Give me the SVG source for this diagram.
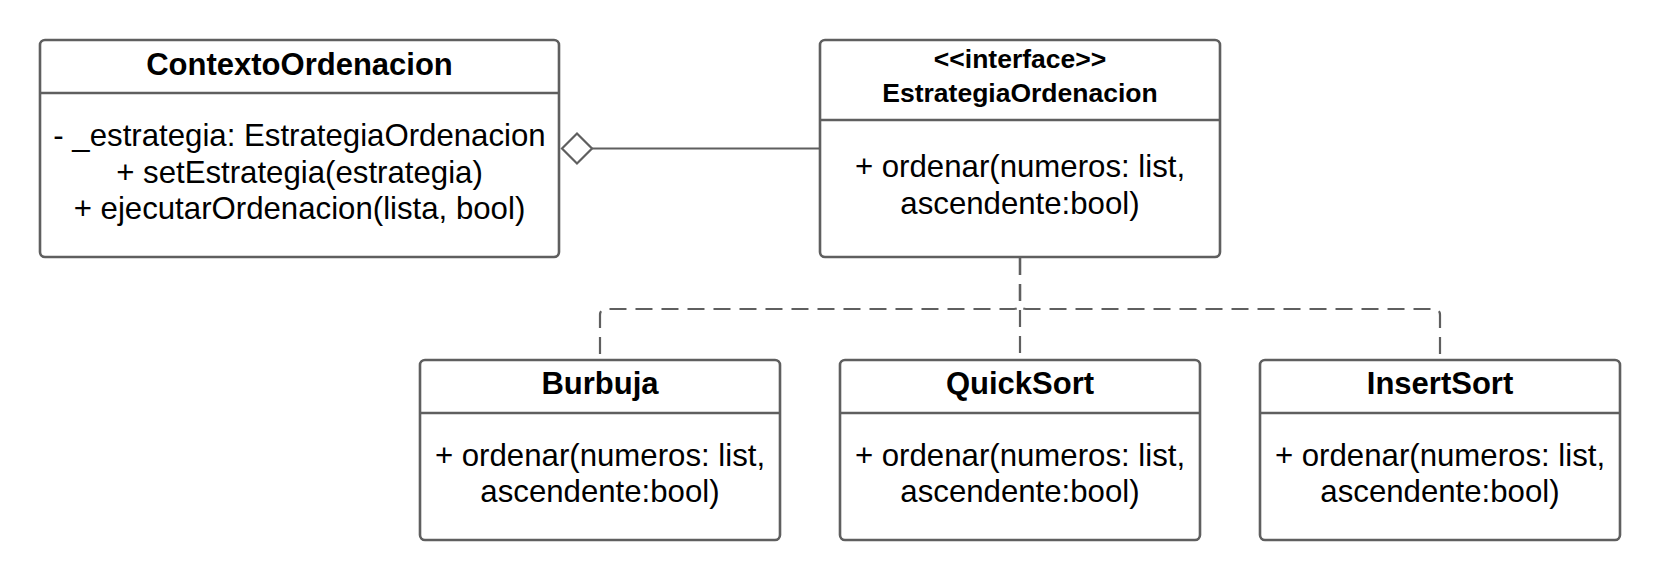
<svg xmlns="http://www.w3.org/2000/svg" width="1660" height="580" viewBox="0 0 1660 580">
<style>
.box{fill:#fff;stroke:#5f5f5f;stroke-width:2.6}
.div{stroke:#5f5f5f;stroke-width:2.6}
.t{font-family:"Liberation Sans",Arial,sans-serif;fill:#000;text-anchor:middle}
.h{font-weight:bold;font-size:31px}
.hs{font-weight:bold;font-size:26.5px}
.b{font-size:31.2px}
.ln{fill:none;stroke:#5f5f5f;stroke-width:2.2}
.dash{stroke-dasharray:17 9}
</style>
<rect width="1660" height="580" fill="#fff"/>
<g id="connectors">
<path class="ln" d="M820,148.5 H592"/>
<path id="agg" d="M562,148.5 L577,133.5 L592,148.5 L577,163.5 Z" fill="#fff" stroke="#5f5f5f" stroke-width="2.2"/>
<path class="ln dash" d="M1020,258 V303 Q1020,309 1014,309 H606 Q600,309 600,315 V360"/>
<path class="ln dash" d="M1020,258 V303 Q1020,309 1026,309 H1434 Q1440,309 1440,315 V360"/>
<path class="ln dash" d="M1020,258 V360"/>
</g>
<g id="ContextoOrdenacion">
<rect class="box" x="40" y="40" width="519" height="217" rx="5"/>
<line class="div" x1="40" y1="93" x2="559" y2="93"/>
<text class="t h" x="299.5" y="74.5">ContextoOrdenacion</text>
<text class="t b" x="299.5" y="146">- _estrategia: EstrategiaOrdenacion</text>
<text class="t b" x="299.5" y="182.5">+ setEstrategia(estrategia)</text>
<text class="t b" x="299.5" y="219">+ ejecutarOrdenacion(lista, bool)</text>
</g>
<g id="EstrategiaOrdenacion">
<rect class="box" x="820" y="40" width="400" height="217" rx="5"/>
<line class="div" x1="820" y1="120" x2="1220" y2="120"/>
<text class="t hs" x="1020" y="68">&lt;&lt;interface&gt;&gt;</text>
<text class="t hs" x="1020" y="101.5">EstrategiaOrdenacion</text>
<text class="t b" x="1020" y="177">+ ordenar(numeros: list,</text>
<text class="t b" x="1020" y="213.5">ascendente:bool)</text>
</g>
<g id="Burbuja">
<rect class="box" x="420" y="360" width="360" height="180" rx="5"/>
<line class="div" x1="420" y1="413" x2="780" y2="413"/>
<text class="t h" x="600" y="394">Burbuja</text>
<text class="t b" x="600" y="465.5">+ ordenar(numeros: list,</text>
<text class="t b" x="600" y="502">ascendente:bool)</text>
</g>
<g id="QuickSort">
<rect class="box" x="840" y="360" width="360" height="180" rx="5"/>
<line class="div" x1="840" y1="413" x2="1200" y2="413"/>
<text class="t h" x="1020" y="394">QuickSort</text>
<text class="t b" x="1020" y="465.5">+ ordenar(numeros: list,</text>
<text class="t b" x="1020" y="502">ascendente:bool)</text>
</g>
<g id="InsertSort">
<rect class="box" x="1260" y="360" width="360" height="180" rx="5"/>
<line class="div" x1="1260" y1="413" x2="1620" y2="413"/>
<text class="t h" x="1440" y="394">InsertSort</text>
<text class="t b" x="1440" y="465.5">+ ordenar(numeros: list,</text>
<text class="t b" x="1440" y="502">ascendente:bool)</text>
</g>
</svg>
